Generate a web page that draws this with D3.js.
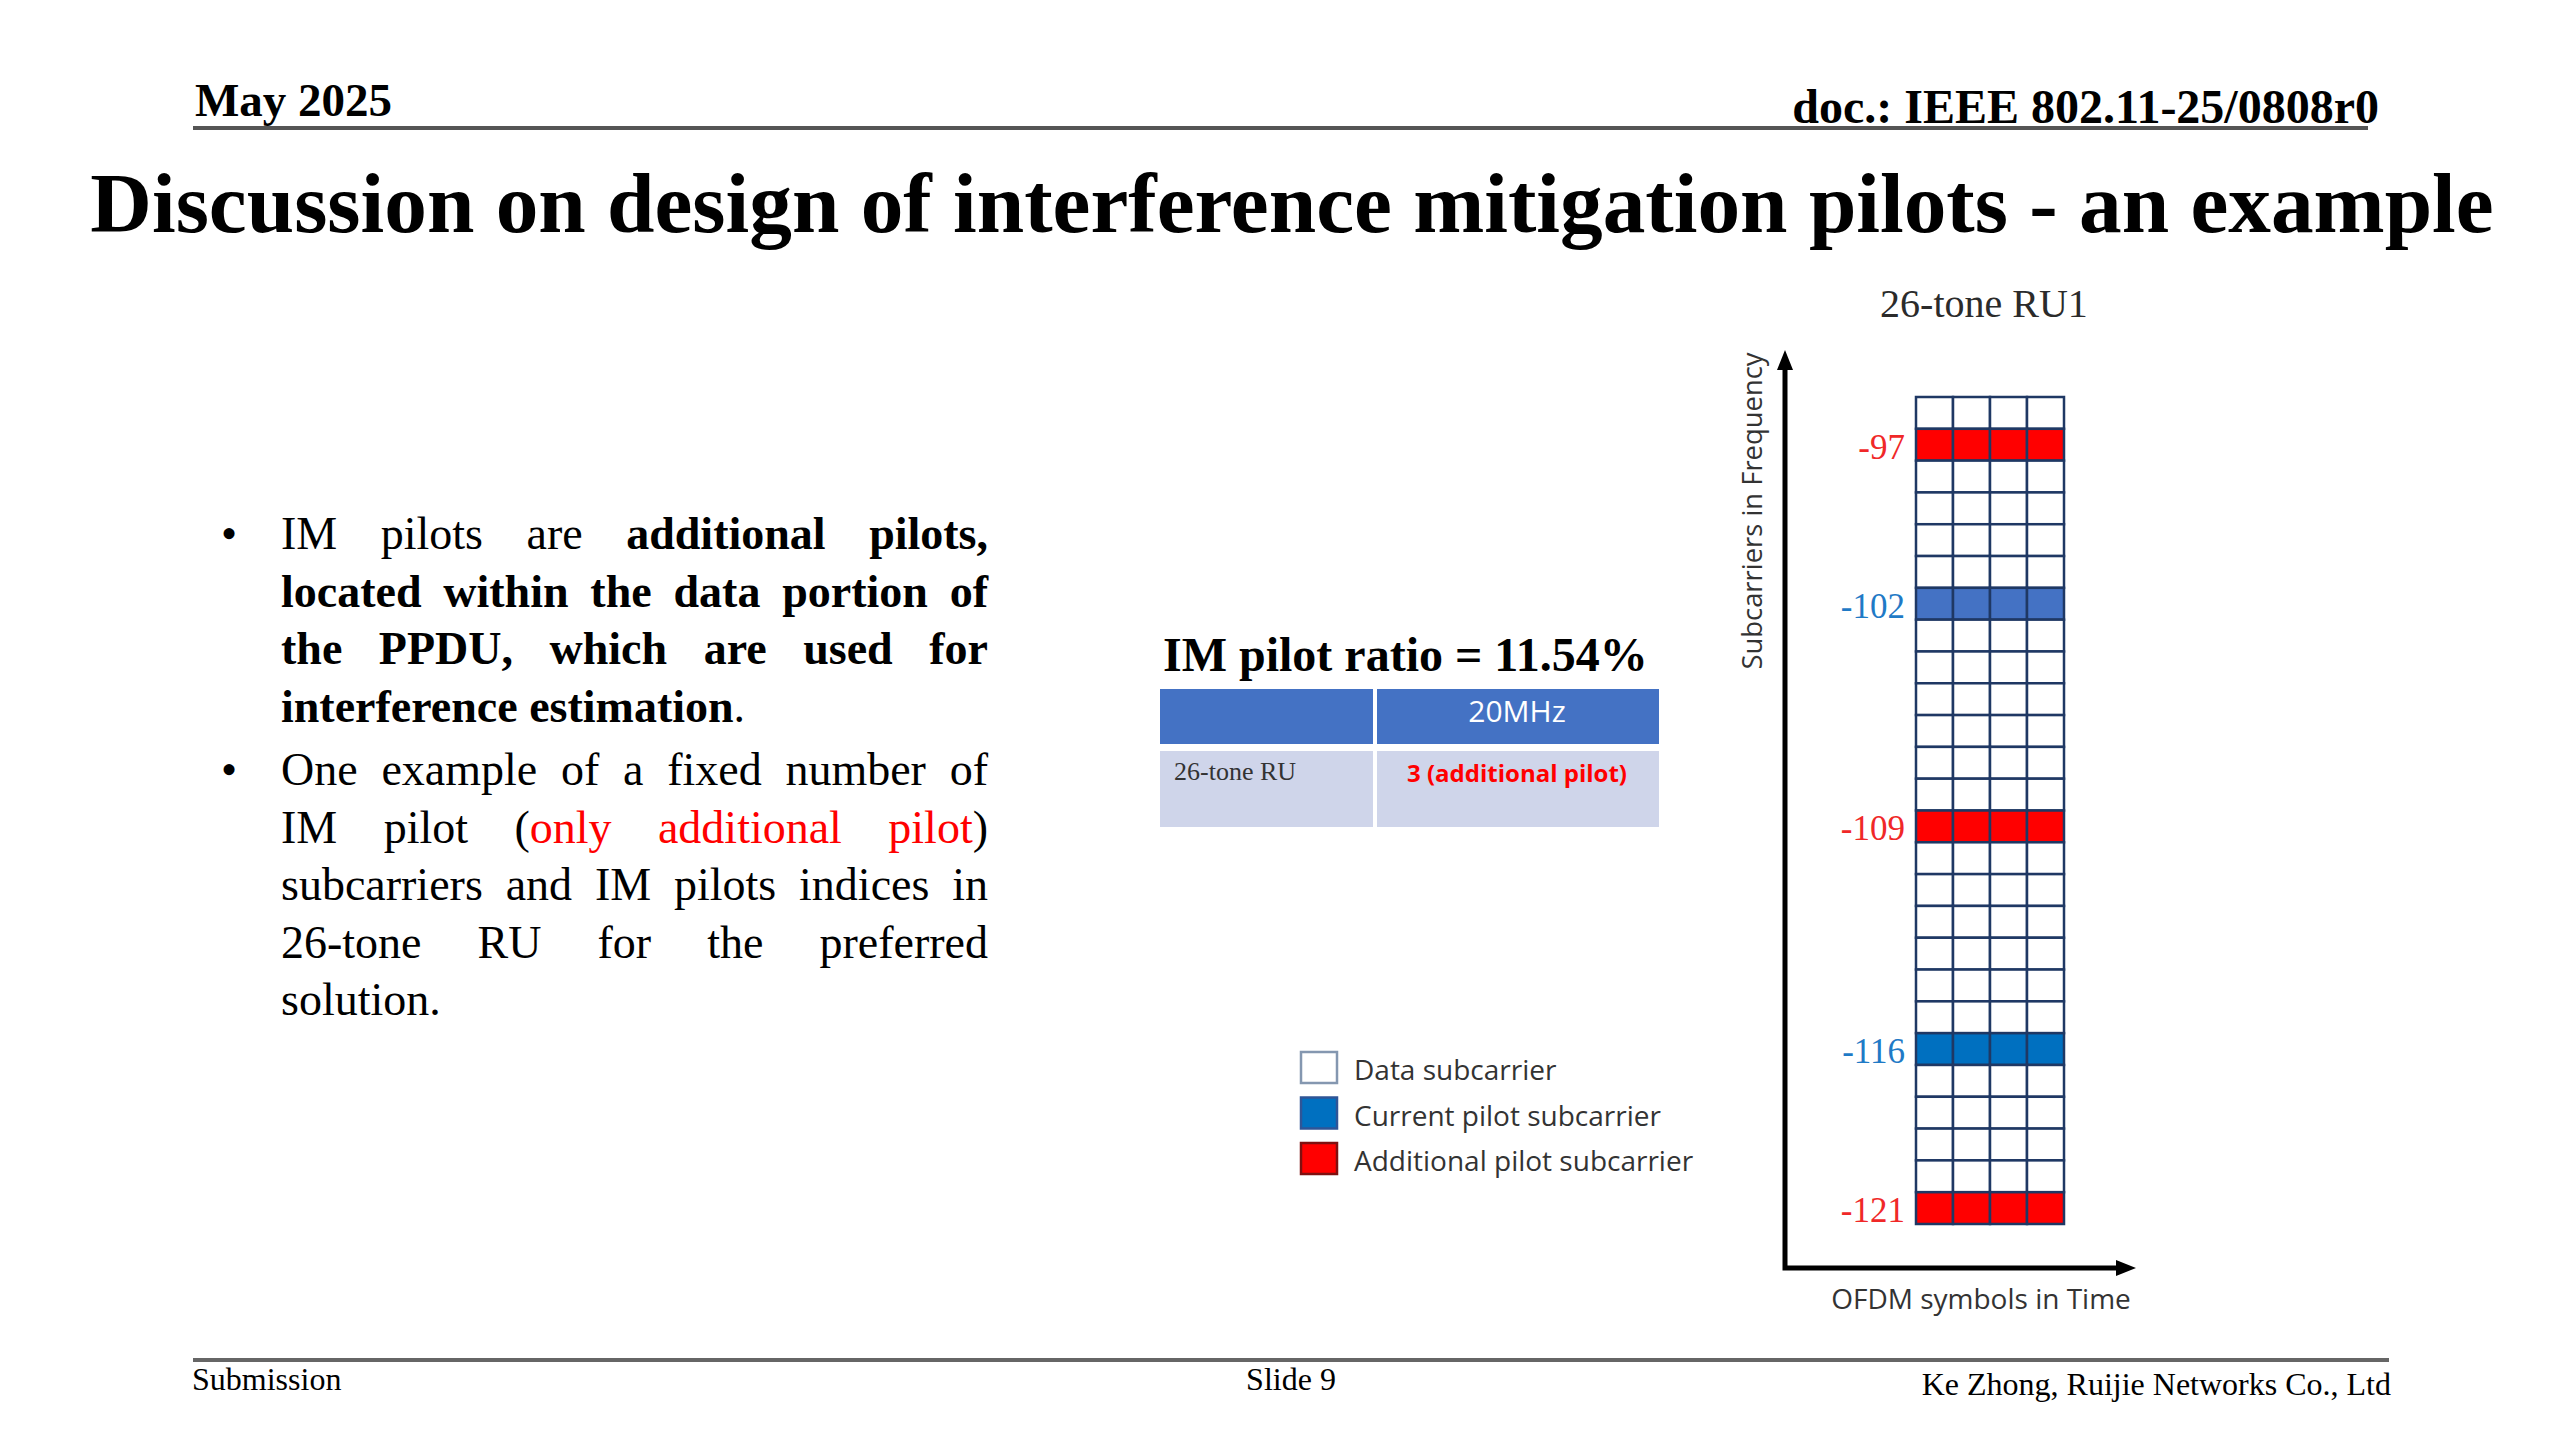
<!DOCTYPE html>
<html>
<head>
<meta charset="utf-8">
<script src="https://cdn.jsdelivr.net/npm/d3@7"></script>
<style>
 body { margin: 0; background: #fff; }
</style>
</head>
<body>
<svg id="slide" width="2560" height="1440" font-family="'Liberation Serif', 'Times New Roman', serif"></svg>

<script>
	// subcarrier indices of the 26-tone RU1, top row first
	var subcarriers = [-96, -97, -98, -99, -100, -101, -102, -103, -104, -105, -106, -107, -108,
		-109, -110, -111, -112, -113, -114, -115, -116, -117, -118, -119, -120, -121];
	var symbols = [1, 2, 3, 4];
	var currentPilots = [-102, -116];
	var additionalPilots = [-97, -109, -121];

	var tableHeader = ["", "20MHz"];
	var tableRow = ["26-tone RU", "3 (additional pilot)"];
	var ratioLabel = "IM pilot ratio = 11.54%";

	var legendLabels = ["Data subcarrier", "Current pilot subcarrier", "Additional pilot subcarrier"];
	var legendTypes = ["data", "current", "additional"];

	// bullet text, one entry per line, pieces are [text, style]
	var bullets = [
		[
			[["IM pilots are ", "n"], ["additional pilots,", "b"]],
			[["located within the data portion of", "b"]],
			[["the PPDU, which are used for", "b"]],
			[["interference estimation", "b"], [".", "n"]]
		],
		[
			[["One example of a fixed number of", "n"]],
			[["IM pilot (", "n"], ["only additional pilot", "r"], [")", "n"]],
			[["subcarriers and IM pilots indices in", "n"]],
			[["26-tone RU for the preferred", "n"]],
			[["solution.", "n"]]
		]
	];

	var serif = "'Liberation Serif', 'Times New Roman', serif";
	var sans = "'Open Sans', 'Noto Sans', sans-serif";
	var red = "#ff0000", blue = "#0070c0";
	var fills = { data: "#ffffff", current: blue, additional: red };
	var rowFill = { "-102": "#4472c4" };

	var svg = d3.select("#slide");

	// ---------- header / footer ----------
	svg.append("text").attr("x", 195).attr("y", 116)
		.attr("font-size", 47).attr("font-weight", "bold").text("May 2025");
	svg.append("text").attr("x", 2379).attr("y", 123).attr("text-anchor", "end")
		.attr("font-size", 48).attr("font-weight", "bold").text("doc.: IEEE 802.11-25/0808r0");
	svg.append("line").attr("x1", 193).attr("x2", 2368).attr("y1", 128).attr("y2", 128)
		.attr("stroke", "#555").attr("stroke-width", 4);

	svg.append("text").attr("x", 1292).attr("y", 232).attr("text-anchor", "middle")
		.attr("font-size", 85.3).attr("font-weight", "bold")
		.text("Discussion on design of interference mitigation pilots - an example");

	svg.append("line").attr("x1", 193).attr("x2", 2389).attr("y1", 1360).attr("y2", 1360)
		.attr("stroke", "#666").attr("stroke-width", 4);
	svg.append("text").attr("x", 192).attr("y", 1390).attr("font-size", 32).text("Submission");
	svg.append("text").attr("x", 1291).attr("y", 1390).attr("text-anchor", "middle")
		.attr("font-size", 32).text("Slide 9");
	svg.append("text").attr("x", 2391).attr("y", 1395).attr("text-anchor", "end")
		.attr("font-size", 32).text("Ke Zhong, Ruijie Networks Co., Ltd");

	// ---------- bullets (justified) ----------
	var textLeft = 281, textRight = 988, bulletX = 229;
	var lineH = 57.5, paraGap = 6, baseY = 549;
	var bodySize = 46;
	var bodyG = svg.append("g").attr("font-size", bodySize);

	function splitWords(line) {
		var words = [], cur = [];
		line.forEach(function (seg) {
			seg[0].split(" ").forEach(function (p, k) {
				if (k > 0 && cur.length) { words.push(cur); cur = []; }
				if (p) cur.push([p, seg[1]]);
			});
		});
		if (cur.length) words.push(cur);
		return words;
	}

	var yy = baseY;
	bullets.forEach(function (para) {
		bodyG.append("text").attr("x", bulletX).attr("y", yy).attr("text-anchor", "middle").text("\u2022");
		para.forEach(function (line, li) {
			var words = splitWords(line);
			var nodes = words.map(function (w) {
				var t = bodyG.append("text").attr("y", yy);
				w.forEach(function (piece) {
					t.append("tspan")
						.attr("font-weight", piece[1] == "b" ? "bold" : null)
						.attr("fill", piece[1] == "r" ? red : "#000")
						.text(piece[0]);
				});
				return t;
			});
			var widths = nodes.map(function (t) { return t.node().getComputedTextLength(); });
			var total = d3.sum(widths);
			var last = li == para.length - 1;
			var gap = (last || nodes.length < 2) ? bodySize * 0.25 : (textRight - textLeft - total) / (nodes.length - 1);
			var cx = textLeft;
			nodes.forEach(function (t, i) {
				t.attr("x", cx);
				cx += widths[i] + gap;
			});
			yy += lineH;
		});
		yy += paraGap;
	});

	// ---------- IM pilot ratio table ----------
	svg.append("text").attr("x", 1163).attr("y", 671)
		.attr("font-size", 48).attr("font-weight", "bold").text(ratioLabel);

	var colX = [1160, 1375, 1659];
	var headTop = 689, headBot = 744, bodyTop = 751, bodyBot = 827;
	[0, 1].forEach(function (c) {
		svg.append("rect").attr("x", colX[c] + (c ? 2 : 0)).attr("y", headTop)
			.attr("width", colX[c + 1] - colX[c] - 2).attr("height", headBot - headTop)
			.attr("fill", "#4472c4");
		svg.append("rect").attr("x", colX[c] + (c ? 2 : 0)).attr("y", bodyTop)
			.attr("width", colX[c + 1] - colX[c] - 2).attr("height", bodyBot - bodyTop)
			.attr("fill", "#cfd5ea");
	});
	var col2 = (colX[1] + colX[2]) / 2;
	svg.append("text").attr("x", col2).attr("y", 722).attr("text-anchor", "middle")
		.attr("font-family", sans).attr("font-size", 30).attr("fill", "#fff").text(tableHeader[1]);
	svg.append("text").attr("x", 1174).attr("y", 780)
		.attr("font-size", 26).attr("fill", "#333").text(tableRow[0]);
	svg.append("text").attr("x", col2).attr("y", 782).attr("text-anchor", "middle")
		.attr("font-family", sans).attr("font-size", 24).attr("font-weight", "bold")
		.attr("fill", red).text(tableRow[1]);

	// ---------- legend ----------
	var leg = svg.append("g").selectAll("g").data(legendLabels).join("g")
		.attr("transform", function (d, i) { return "translate(1301," + (1052 + i * 45.5) + ")"; });
	leg.append("rect").attr("width", 36).attr("height", 31)
		.attr("fill", function (d, i) { return fills[legendTypes[i]]; })
		.attr("stroke", function (d, i) { return ["#8497b0", "#2f5597", "#7f1010"][i]; })
		.attr("stroke-width", 2.5);
	leg.append("text").attr("x", 53).attr("y", 28)
		.attr("font-family", sans).attr("font-size", 28).attr("fill", "#333")
		.text(function (d) { return d; });

	// ---------- 26-tone RU1 grid ----------
	var y = d3.scaleBand().domain(subcarriers).range([397, 1224]);
	var x = d3.scaleBand().domain(symbols).range([1916, 2064]);

	function kind(k) {
		if (additionalPilots.indexOf(k) >= 0) return "additional";
		if (currentPilots.indexOf(k) >= 0) return "current";
		return "data";
	}

	var cells = [];
	subcarriers.forEach(function (k) {
		symbols.forEach(function (s) { cells.push({ k: k, s: s }); });
	});

	svg.append("g").selectAll("rect").data(cells).join("rect")
		.attr("x", function (d) { return x(d.s); })
		.attr("y", function (d) { return y(d.k); })
		.attr("width", x.bandwidth())
		.attr("height", y.bandwidth())
		.attr("fill", function (d) { return rowFill[d.k] || fills[kind(d.k)]; })
		.attr("stroke", "#1f3864")
		.attr("stroke-width", 2.5);

	var yAxis = d3.axisLeft(y)
		.tickValues(additionalPilots.concat(currentPilots))
		.tickSize(0)
		.tickPadding(11);
	var ag = svg.append("g").attr("transform", "translate(1916,0)").call(yAxis);
	ag.select(".domain").remove();
	ag.attr("font-family", serif).attr("font-size", 35);
	ag.selectAll("text")
		.attr("dy", "0.4em")
		.attr("fill", function (d) { return kind(d) == "additional" ? "#f02828" : "#1f7ac6"; });

	svg.append("text").attr("x", 1984).attr("y", 317).attr("text-anchor", "middle")
		.attr("font-size", 40).attr("fill", "#2b2b2b").text("26-tone RU1");

	// time / frequency arrows
	var ox = 1785, oy = 1268;
	svg.append("path").attr("d", "M" + ox + ",362V" + oy + "H2122")
		.attr("fill", "none").attr("stroke", "#000").attr("stroke-width", 5);
	svg.append("path").attr("d", "M" + ox + ",350l-8,20h16z").attr("fill", "#000");
	svg.append("path").attr("d", "M2136," + oy + "l-20,-8v16z").attr("fill", "#000");

	svg.append("text").attr("x", 1981).attr("y", 1309).attr("text-anchor", "middle")
		.attr("font-family", sans).attr("font-size", 28).attr("fill", "#333")
		.text("OFDM symbols in Time");
	svg.append("text").attr("transform", "translate(1762,511) rotate(-90)")
		.attr("text-anchor", "middle")
		.attr("font-family", sans).attr("font-size", 27.4).attr("fill", "#333")
		.text("Subcarriers in Frequency");
</script>
</body>
</html>
